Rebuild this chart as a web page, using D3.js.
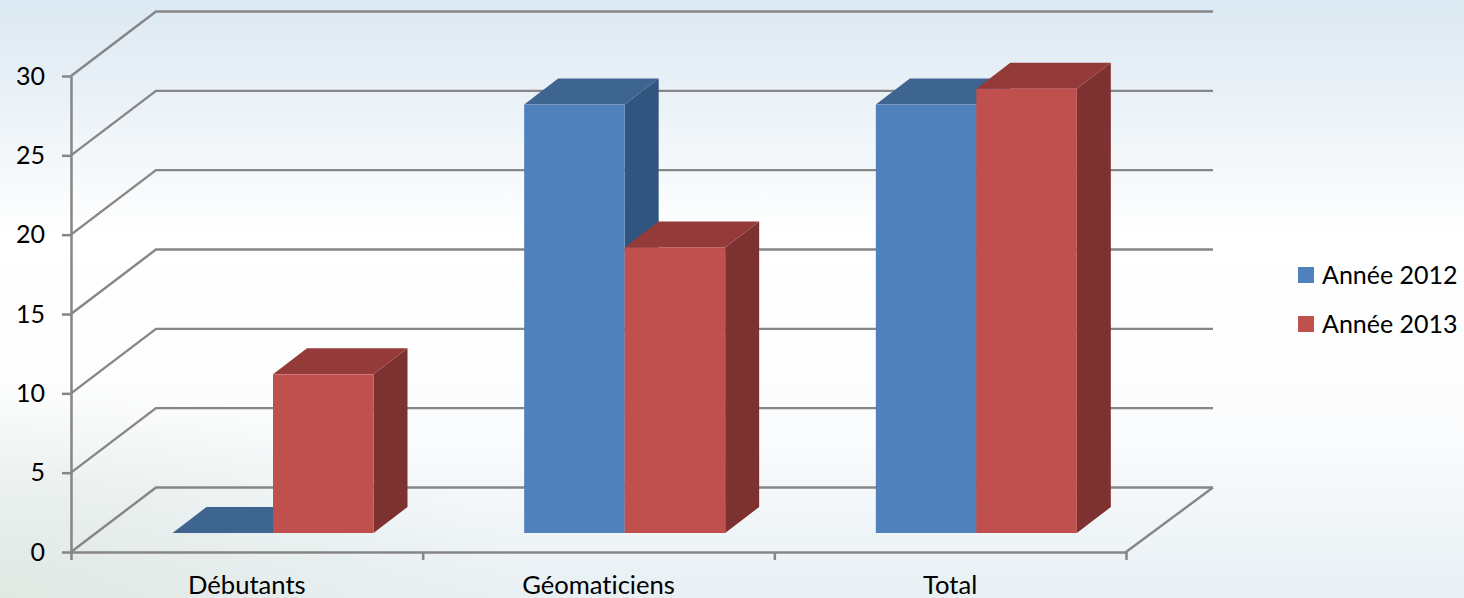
<!DOCTYPE html>
<html>
<head>
<meta charset="utf-8">
<script src="https://cdn.jsdelivr.net/npm/d3@7/dist/d3.min.js"></script>
<style>
  html, body { margin: 0; padding: 0; overflow: hidden; background: #fff; }
  text { font-family: Lato, "Open Sans", sans-serif; fill: #000; font-variant-ligatures: none; }
  .tick line, .domain { stroke: #868686; stroke-width: 2.5; }
</style>
</head>
<body>
<div id="chart"></div>
<script>
// data
var categories = ["Débutants", "Géomaticiens", "Total"];
var seriesNames = ["Année 2012", "Année 2013"];
var values2012 = [0, 27, 27];
var values2013 = [10, 18, 28];
var yTicks = [0, 5, 10, 15, 20, 25, 30];

var frontColors = ["#4f81bd", "#c0504d"];
var topColors = ["#3e6490", "#943a38"];
var sideColors = ["#325580", "#7d3130"];

var width = 1464, height = 598;

// axis box, and how far the back wall is pushed from the front
var left = 71, right = 1126, bottom = 552, top30 = 76;
var depthX = 85, depthY = 64.5;
// bars stand partway in the floor
var barDepthX = 34, barDepthY = 26, barLift = 19;

var svg = d3.select("#chart")
  .append("svg")
    .attr("width", width)
    .attr("height", height)
    .style("display", "block");

// background
var defs = svg.append("defs");
var bg = defs.append("linearGradient").attr("id", "bg")
  .attr("x1", 0).attr("x2", 0).attr("y1", 0).attr("y2", 1);
[[0, "#dce9f2"], [0.12, "#e6eff6"], [0.26, "#f3f7fa"], [0.4, "#ffffff"], [0.72, "#fbfcfd"], [1, "#e8f0f4"]]
  .forEach(function(s) { bg.append("stop").attr("offset", s[0]).attr("stop-color", s[1]); });
var corner = defs.append("radialGradient").attr("id", "corner")
  .attr("cx", 0).attr("cy", 1).attr("r", 0.36);
corner.append("stop").attr("offset", 0).attr("stop-color", "#e1e9e4").attr("stop-opacity", 1);
corner.append("stop").attr("offset", 1).attr("stop-color", "#e1e9e4").attr("stop-opacity", 0);
svg.append("rect").attr("width", width).attr("height", height).attr("fill", "url(#bg)");
svg.append("rect").attr("width", width).attr("height", height).attr("fill", "url(#corner)");

// scales
var y = d3.scaleLinear().domain([0, 30]).range([bottom, top30]);
var x = d3.scaleBand().domain(categories).range([left, right]);
var xEdges = d3.scaleLinear().domain([0, categories.length]).range([left, right]);
var xSeries = d3.scaleBand().domain(seriesNames)
  .range([101.5, 101.5 + 201]);

// gridlines on the wall and the side wall
var grid = svg.append("g").attr("fill", "none").attr("stroke", "#868686").attr("stroke-width", 2.4);
grid.selectAll("path")
  .data(yTicks)
  .enter()
  .append("path")
    .attr("d", function(d) {
      var p = d3.path();
      p.moveTo(left, y(d));
      p.lineTo(left + depthX, y(d) - depthY);
      p.lineTo(right + depthX + 2, y(d) - depthY);
      return p.toString();
    });

// floor edge on the right
grid.append("line")
  .attr("x1", right).attr("y1", y(0))
  .attr("x2", right + depthX + 2).attr("y2", y(0) - depthY);

// axes
svg.append("g")
  .attr("transform", "translate(" + left + ",0)")
  .call(d3.axisLeft(y).tickValues(yTicks).tickSize(9).tickSizeOuter(0).tickPadding(17))
  .call(function(g) { g.selectAll("text").attr("font-size", 25).style("font-family", "Lato"); });

svg.append("g")
  .attr("transform", "translate(0," + bottom + ")")
  .call(d3.axisBottom(xEdges).tickValues(d3.range(categories.length + 1)).tickFormat("").tickSize(8).tickSizeOuter(0));

svg.append("g")
  .attr("transform", "translate(0," + bottom + ")")
  .call(d3.axisBottom(x).tickSize(0).tickPadding(23.5))
  .call(function(g) {
    g.select(".domain").remove();
    g.selectAll("text").attr("font-size", 25.6).style("font-family", "Lato");
  });

// bars, blue then red in each group
var series = [values2012, values2013];
categories.forEach(function(cat, c) {
  series.forEach(function(vals, s) {
    var x0 = x(cat) + xSeries(seriesNames[s]);
    var w = xSeries.bandwidth();
    var yBase = y(0) - barLift;
    var yTop = yBase - (y(0) - y(vals[c]));
    var g = svg.append("g");
    // side
    g.append("path")
      .attr("fill", sideColors[s])
      .attr("d", d3.line()([
        [x0 + w, yTop], [x0 + w + barDepthX, yTop - barDepthY],
        [x0 + w + barDepthX, yBase - barDepthY], [x0 + w, yBase]
      ]) + "Z");
    // top
    g.append("path")
      .attr("fill", topColors[s])
      .attr("d", d3.line()([
        [x0, yTop], [x0 + barDepthX, yTop - barDepthY],
        [x0 + w + barDepthX, yTop - barDepthY], [x0 + w, yTop]
      ]) + "Z");
    // front
    g.append("rect")
      .attr("x", x0).attr("y", yTop)
      .attr("width", w).attr("height", yBase - yTop)
      .attr("fill", frontColors[s]);
  });
});

// legend
var legend = svg.append("g").selectAll("g")
  .data(seriesNames)
  .enter()
  .append("g")
    .attr("transform", function(d, i) { return "translate(1298," + (267 + i * 49) + ")"; });
legend.append("rect")
  .attr("width", 16).attr("height", 16)
  .attr("fill", function(d, i) { return frontColors[i]; });
legend.append("text")
  .attr("x", 24).attr("y", 17)
  .attr("font-size", 25)
  .text(function(d) { return d; });
</script>
</body>
</html>
